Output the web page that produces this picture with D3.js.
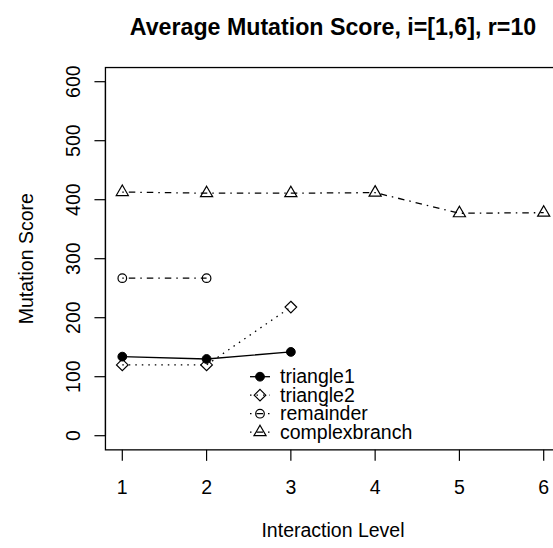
<!DOCTYPE html>
<html>
<head>
<meta charset="utf-8">
<script src="https://d3js.org/d3.v7.min.js"></script>
<style type="text/css">
body {margin:0;background:white;}
svg {display:block;}
text {font-family:"Liberation Sans", Arial, Helvetica, sans-serif;fill:black;}
</style>
</head>
<body>
<svg id="chart" width="553" height="548"></svg>
<script type="text/javascript">
// values
var levels = [1, 2, 3, 4, 5, 6];
var triangle1 = [134, 130, 142];
var triangle2 = [120, 120, 218];
var remainder = [267, 267];
var complexbranch = [413, 411, 411, 412, 377, 378];
var seriesNames = ["triangle1", "triangle2", "remainder", "complexbranch"];
var yTicks = [0, 100, 200, 300, 400, 500, 600];

var title = "Average Mutation Score, i=[1,6], r=10";
var xLabel = "Interaction Level";
var yLabel = "Mutation Score";

var svg = d3.select("#chart");

var x = d3.scaleLinear().domain([1, 6]).range([122.3, 543.7]);
var y = d3.scaleLinear().domain([0, 600]).range([435.7, 81.7]);

var series = [
	{name: seriesNames[0], values: triangle1, dash: null, pch: "dot"},
	{name: seriesNames[1], values: triangle2, dash: "1.5 5", pch: "diamond"},
	{name: seriesNames[2], values: remainder, dash: "1.5 5 6.5 5", pch: "circle"},
	{name: seriesNames[3], values: complexbranch, dash: "1.5 5 6.5 5", pch: "triangle"}
];

// plot box (R extends the ranges by 4%)
var x0 = x(0.8), x1 = x(6.2), yb = y(-24), yt = y(624);
svg.append("rect")
	.attr("x", x0).attr("y", yt)
	.attr("width", x1 - x0).attr("height", yb - yt)
	.attr("fill", "none").attr("stroke", "black").attr("stroke-width", 1.3);

// x axis
var xAxis = svg.append("g");
levels.forEach(function(l) {
	xAxis.append("line")
		.attr("x1", x(l)).attr("x2", x(l))
		.attr("y1", yb).attr("y2", yb + 11)
		.attr("stroke", "black").attr("stroke-width", 1.2);
	xAxis.append("text")
		.attr("x", x(l)).attr("y", 494)
		.attr("text-anchor", "middle")
		.attr("font-size", 19.5)
		.text(l);
});

// y axis
var yAxis = svg.append("g");
yAxis.append("line")
	.attr("x1", x0).attr("x2", x0)
	.attr("y1", y(0)).attr("y2", y(600))
	.attr("stroke", "black").attr("stroke-width", 1.2);
yTicks.forEach(function(t) {
	yAxis.append("line")
		.attr("x1", x0 - 11).attr("x2", x0)
		.attr("y1", y(t)).attr("y2", y(t))
		.attr("stroke", "black").attr("stroke-width", 1.2);
	yAxis.append("text")
		.attr("transform", "translate(80," + y(t) + ") rotate(-90)")
		.attr("text-anchor", "middle")
		.attr("font-size", 19.5)
		.text(t);
});

// labels
svg.append("text")
	.attr("x", (x0 + x1) / 2).attr("y", 35)
	.attr("text-anchor", "middle")
	.attr("font-size", 23.2)
	.attr("font-weight", "bold")
	.text(title);
svg.append("text")
	.attr("x", (x0 + x1) / 2).attr("y", 537)
	.attr("text-anchor", "middle")
	.attr("font-size", 19.5)
	.text(xLabel);
svg.append("text")
	.attr("transform", "translate(33," + ((yt + yb) / 2) + ") rotate(-90)")
	.attr("text-anchor", "middle")
	.attr("font-size", 19.5)
	.text(yLabel);

function drawSymbol(g, pch, cx, cy) {
	if (pch == "dot") {
		g.append("circle").attr("cx", cx).attr("cy", cy).attr("r", 4.4)
			.attr("fill", "black").attr("stroke", "black").attr("stroke-width", 1);
	} else if (pch == "circle") {
		g.append("circle").attr("cx", cx).attr("cy", cy).attr("r", 4.3)
			.attr("fill", "none").attr("stroke", "black").attr("stroke-width", 1.2);
	} else if (pch == "diamond") {
		var r = 5.8;
		g.append("polygon")
			.attr("points", [[cx, cy - r], [cx + r, cy], [cx, cy + r], [cx - r, cy]].join(" "))
			.attr("fill", "none").attr("stroke", "black").attr("stroke-width", 1.2);
	} else if (pch == "triangle") {
		var r = 7;
		var w = r * Math.sqrt(3) / 2;
		g.append("polygon")
			.attr("points", [[cx, cy - r], [cx + w, cy + r / 2], [cx - w, cy + r / 2]].join(" "))
			.attr("fill", "none").attr("stroke", "black").attr("stroke-width", 1.2);
	}
}

var line = d3.line()
	.x(function(d, i) { return x(levels[i]); })
	.y(function(d) { return y(d); });

var plot = svg.append("g");
series.forEach(function(s) {
	plot.append("path")
		.attr("d", line(s.values))
		.attr("fill", "none")
		.attr("stroke", "black")
		.attr("stroke-width", 1.3)
		.attr("stroke-dasharray", s.dash);
	s.values.forEach(function(v, i) {
		drawSymbol(plot, s.pch, x(levels[i]), y(v));
	});
});

// legend
var legend = svg.append("g");
series.forEach(function(s, i) {
	var ry = 376.7 + i * 18.5;
	legend.append("line")
		.attr("x1", 250).attr("x2", 270)
		.attr("y1", ry).attr("y2", ry)
		.attr("stroke", "black").attr("stroke-width", 1.3)
		.attr("stroke-dasharray", s.dash);
	drawSymbol(legend, s.pch, 260, ry);
	legend.append("text")
		.attr("x", 280).attr("y", ry + 6.6)
		.attr("font-size", 19.5)
		.text(s.name);
});
</script>
</body>
</html>
